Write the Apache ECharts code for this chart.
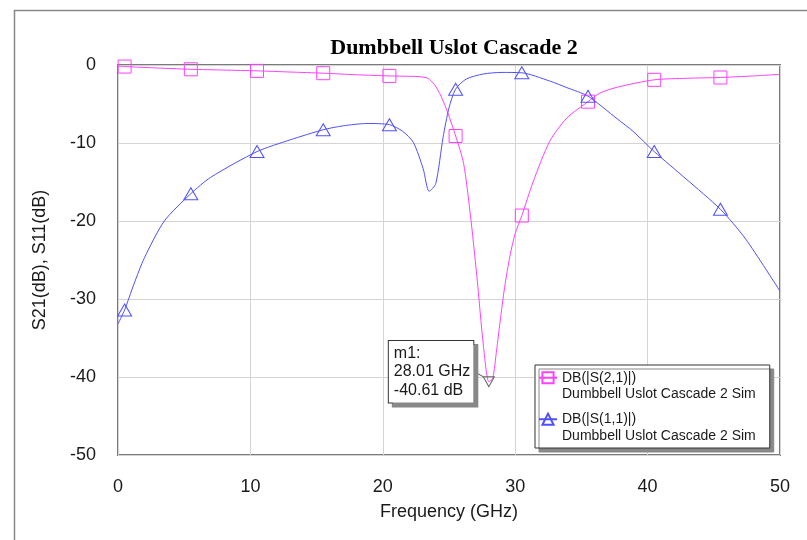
<!DOCTYPE html>
<html>
<head>
<meta charset="utf-8">
<script src="https://cdn.jsdelivr.net/npm/echarts@6/dist/echarts.min.js"></script>
<style>
  html, body { margin: 0; padding: 0; background: #fff; }
  #mychart { width: 807px; height: 540px; }
</style>
</head>
<body>
<div id="mychart"></div>
<script>
  // S21 (magenta), GHz / dB
  const s21Freq = [0, 0.5, 2.5, 5.5, 8, 10.5, 13, 15.5, 18, 20.5, 22, 22.8, 23.4, 23.9, 24.4, 24.9, 25.5,
    26.1, 26.6, 27.1, 27.6, 28.01, 28.3, 28.6, 28.85, 29.2, 29.6, 30.0, 30.5, 31.35, 32.6, 33.9, 35.5,
    36.4, 37.7, 40.5, 43, 45.5, 48, 50]
  const s21Db = [-0.15, -0.2, -0.35, -0.55, -0.65, -0.75, -0.9, -1.05, -1.25, -1.4, -1.45, -1.5, -1.7, -2.5, -4.0, -6.1, -9.1,
    -12.6, -19, -27, -36, -40.61, -40.2, -36.5, -33, -28.5, -24.5, -21.6, -19.3, -15.0, -9.8, -6.8, -4.7,
    -3.6, -2.85, -1.9, -1.7, -1.6, -1.4, -1.2]

  // S11 (blue)
  const s11Freq = [0, 0.5, 1.2, 2.0, 3.5, 5.5, 7.0, 10.5, 13, 15.5, 17, 18.8, 20.5, 21.5, 22.3, 23.05, 23.5, 24.0,
    24.55, 25.0, 25.5, 26.3, 27.6, 29, 30.5, 32.6, 33.9, 35.5, 37.7, 38.9, 40.5, 42.9, 45.5, 47.4, 50]
  const s11Db = [-33.2, -31.4, -28.1, -24.7, -20.0, -16.5, -14.4, -11.1, -9.6, -8.3, -7.8, -7.5, -7.65, -8.5, -9.9, -13.3, -16.2, -15.2,
    -9.3, -5.5, -3.1, -1.8, -1.15, -0.95, -1.0, -2.05, -2.9, -4.0, -6.9, -8.5, -11.1, -14.6, -18.5, -22.3, -29.0]

  // frequencies that carry a marker symbol
  const markerFreq = [0.5, 5.5, 10.5, 15.5, 20.5, 25.5, 30.5, 35.5, 40.5, 45.5]

  // marker m1
  const m1Freq = 28.01
  const m1Db = -40.61

  const simName = 'Dumbbell Uslot Cascade 2 Sim'
  const magenta = '#ff40ff'
  const blue = '#5050ff'

  // only the marker frequencies keep their symbol
  function points(xs, ys) {
    return xs.map((x, i) => {
      if (markerFreq.includes(x)) return [x, ys[i]]
      return { value: [x, ys[i]], symbol: 'none' }
    })
  }

  const labelFont = { fontFamily: 'Liberation Sans', fontSize: 18, color: '#1a1a1a' }

  const option = {
    backgroundColor: '#fff',
    animation: false,
    title: {
      text: 'Dumbbell Uslot Cascade 2',
      left: 449,
      textAlign: 'center',
      top: 32,
      textStyle: { fontFamily: 'Liberation Serif', fontWeight: 'bold', fontSize: 22, color: '#000' },
    },
    graphic: [
      // outer frame of the plot window
      { type: 'rect', left: 12, top: 8, shape: { width: 820, height: 560 }, style: { fill: 'none', stroke: '#888', lineWidth: 1.5 } },
    ],
    grid: {
      left: 118, right: 27, top: 65, bottom: 85,
      show: true, borderColor: '#7a7a7a', borderWidth: 2,
    },
    legend: {
      orient: 'vertical',
      left: 535,
      top: 365,
      padding: [-12, 14, 4, 3],
      itemGap: -8,
      itemWidth: 18,
      itemHeight: 14,
      backgroundColor: '#fff',
      borderColor: '#333',
      borderWidth: 1,
      borderRadius: 0,
      shadowColor: '#888',
      shadowBlur: 0,
      shadowOffsetX: 4,
      shadowOffsetY: 4,
      // blank first line so the icon sits beside the first text line
      formatter: (name) => '\n' + name + '\n' + simName,
      textStyle: { fontFamily: 'Liberation Sans', fontSize: 14, color: '#1a1a1a', lineHeight: 16.5 },
      data: ['DB(|S(2,1)|)', 'DB(|S(1,1)|)'],
    },
    xAxis: {
      type: 'value',
      min: 0, max: 50, interval: 10,
      name: 'Frequency (GHz)',
      nameLocation: 'middle',
      nameGap: 48,
      nameTextStyle: labelFont,
      axisLine: { show: false },
      axisTick: { show: false },
      axisLabel: Object.assign({ margin: 23 }, labelFont),
      splitLine: { lineStyle: { color: '#d4d4d4', width: 1 } },
    },
    yAxis: {
      type: 'value',
      min: -50, max: 0, interval: 10,
      name: 'S21(dB), S11(dB)',
      nameLocation: 'middle',
      nameGap: 69,
      nameTextStyle: labelFont,
      axisLine: { show: false },
      axisTick: { show: false },
      axisLabel: Object.assign({ margin: 22 }, labelFont),
      splitLine: { lineStyle: { color: '#d4d4d4', width: 1 } },
    },
    series: [
      {
        name: 'DB(|S(2,1)|)',
        type: 'line',
        data: points(s21Freq, s21Db),
        smooth: 0.25,
        showSymbol: true,
        showAllSymbol: true,
        symbol: 'rect',
        symbolSize: 13,
        lineStyle: { color: magenta, width: 1 },
        itemStyle: { color: 'rgba(0,0,0,0)', borderColor: magenta, borderWidth: 1 },
        z: 3,
      },
      {
        name: 'DB(|S(1,1)|)',
        type: 'line',
        data: points(s11Freq, s11Db),
        smooth: 0.25,
        showSymbol: true,
        showAllSymbol: true,
        symbol: 'triangle',
        symbolSize: [14, 12],
        lineStyle: { color: blue, width: 1 },
        itemStyle: { color: 'rgba(0,0,0,0)', borderColor: blue, borderWidth: 1 },
        z: 3,
      },
      {
        // marker m1 on the S21 notch
        name: 'm1',
        type: 'scatter',
        data: [[m1Freq, m1Db]],
        symbol: 'triangle',
        symbolRotate: 180,
        symbolSize: [11, 10],
        itemStyle: { color: 'rgba(0,0,0,0)', borderColor: '#666', borderWidth: 1, opacity: 1 },
        label: {
          show: true,
          position: 'left',
          distance: 2,
          formatter: () => 'm1:\n' + m1Freq.toFixed(2) + ' GHz\n' + m1Db.toFixed(2) + ' dB',
          fontFamily: 'Liberation Sans',
          fontSize: 16,
          lineHeight: 18.5,
          color: '#1a1a1a',
          align: 'left',
          backgroundColor: '#fff',
          borderColor: '#333',
          borderWidth: 1,
          padding: [3, 3, 3, 5],
          shadowColor: '#888',
          shadowBlur: 0,
          shadowOffsetX: 4,
          shadowOffsetY: 4,
        },
        labelLayout: { dx: -92, dy: -10 },
        labelLine: { show: true, lineStyle: { color: '#555', width: 1 } },
        z: 4,
      },
    ],
  }

  const myChart = echarts.init(document.getElementById('mychart'))
  myChart.setOption(option)
</script>
</body>
</html>
